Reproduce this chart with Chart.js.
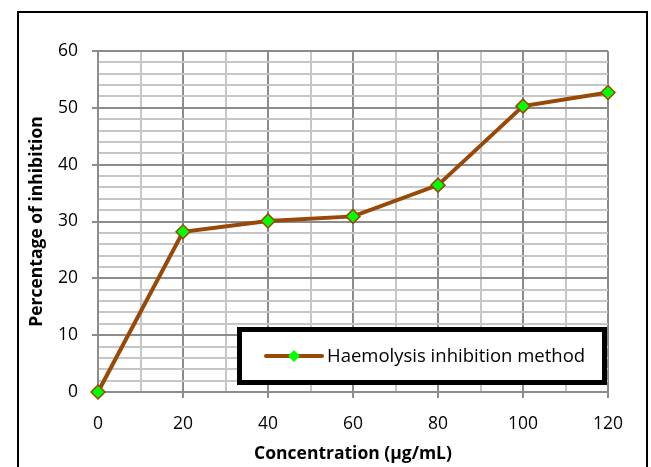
<!DOCTYPE html>
<html>
<head>
<meta charset="utf-8">
<script src="https://cdn.jsdelivr.net/npm/chart.js@4"></script>
<style>
  body { margin: 0; background: #fff; overflow: hidden; }
  #wrap { position: relative; width: 651px; height: 467px; }
  #frame { position: absolute; left: 17px; top: 11px; width: 627px; height: 470px; border: 2px solid #000; }
  #chart { position: absolute; left: 0; top: 0; }
</style>
</head>
<body>
<div id="wrap">
  <div id="frame"></div>
  <canvas id="chart" width="651" height="467"></canvas>
</div>
<script>
// data
const concentrations = [0, 20, 40, 60, 80, 100, 120];
const inhibition = [0, 28.2, 30.1, 30.9, 36.4, 50.3, 52.7];
const seriesName = 'Haemolysis inhibition method';
const xTitle = 'Concentration (µg/mL)';
const yTitle = 'Percentage of inhibition';

const lineColor = '#984807';
const markerFill = '#00ff00';
const darkGrid = '#8c8c8c';
const lightGrid = '#c6c6c6';

Chart.defaults.font.family = "'Open Sans', 'Noto Sans', sans-serif";
Chart.defaults.color = '#000';

// legend drawn as a bordered box inside the plot, like the excel one
const boxLegend = {
  id: 'boxLegend',
  afterDraw(chart) {
    const ctx = chart.ctx;
    const area = chart.chartArea;
    const ds = chart.data.datasets[0];
    const right = area.right - 1;
    const bottom = area.bottom - 7;
    const w = 370, h = 58;
    const left = right - w, top = bottom - h;
    ctx.save();
    ctx.fillStyle = '#fff';
    ctx.fillRect(left, top, w, h);
    ctx.lineWidth = 5;
    ctx.strokeStyle = '#000';
    ctx.strokeRect(left + 2.5, top + 2.5, w - 5, h - 5);

    const cy = top + h / 2;
    const lx = left + 29;
    ctx.lineWidth = ds.borderWidth;
    ctx.strokeStyle = ds.borderColor;
    ctx.lineCap = 'round';
    ctx.beginPath();
    ctx.moveTo(lx, cy);
    ctx.lineTo(lx + 56, cy);
    ctx.stroke();
    ctx.fillStyle = ds.pointBackgroundColor;
    ctx.strokeStyle = ds.pointBorderColor;
    ctx.lineWidth = 1.5;
    Chart.helpers.drawPoint(ctx, { pointStyle: 'rectRot', radius: 6, rotation: 0 }, lx + 28, cy);

    ctx.fillStyle = '#000';
    ctx.font = "18.5px 'Open Sans'";
    ctx.textBaseline = 'middle';
    ctx.textAlign = 'left';
    ctx.fillText(ds.label, lx + 61, cy + 1);
    ctx.restore();
  }
};

new Chart(document.getElementById('chart'), {
  type: 'line',
  data: {
    datasets: [{
      label: seriesName,
      data: concentrations.map((x, i) => ({ x: x, y: inhibition[i] })),
      borderColor: lineColor,
      borderWidth: 4,
      pointStyle: 'rectRot',
      pointRadius: 7,
      pointBackgroundColor: markerFill,
      pointBorderColor: lineColor,
      pointBorderWidth: 1.5,
      tension: 0,
      clip: false
    }]
  },
  options: {
    responsive: false,
    animation: false,
    layout: { padding: { top: 51, right: 43, left: 0, bottom: 0 } },
    plugins: { legend: { display: false }, tooltip: { enabled: false } },
    scales: {
      x: {
        type: 'linear',
        min: 0,
        max: 120,
        afterFit(scale) { scale.height = 75; },
        ticks: {
          stepSize: 10,
          autoSkip: false,
          maxRotation: 0,
          padding: 16,
          font: { size: 17.5 },
          callback: v => (v % 20 === 0 ? v : '')
        },
        grid: {
          lineWidth: 2,
          tickLength: 6,
          color: c => (c.tick && c.tick.value % 20 === 0 ? darkGrid : lightGrid),
          tickColor: c => (c.tick && c.tick.value % 20 === 0 ? darkGrid : 'rgba(0,0,0,0)')
        },
        border: { color: darkGrid, width: 2 },
        title: {
          display: true,
          text: xTitle,
          font: { size: 17.5, weight: 'bold' },
          padding: { top: 0, bottom: 2 }
        }
      },
      y: {
        min: 0,
        max: 60,
        afterFit(scale) { scale.width = 98; },
        ticks: {
          stepSize: 2,
          autoSkip: false,
          padding: 14,
          font: { size: 17.5 },
          callback: v => (v % 10 === 0 ? v : '')
        },
        grid: {
          lineWidth: 2,
          tickLength: 6,
          color: c => (c.tick && c.tick.value % 10 === 0 ? darkGrid : lightGrid),
          tickColor: c => (c.tick && c.tick.value % 10 === 0 ? darkGrid : 'rgba(0,0,0,0)')
        },
        border: { color: darkGrid, width: 2 },
        title: {
          display: true,
          text: yTitle,
          font: { size: 17.5, weight: 'bold' },
          padding: { top: 27, bottom: 0 }
        }
      }
    }
  },
  plugins: [boxLegend]
});
</script>
</body>
</html>
